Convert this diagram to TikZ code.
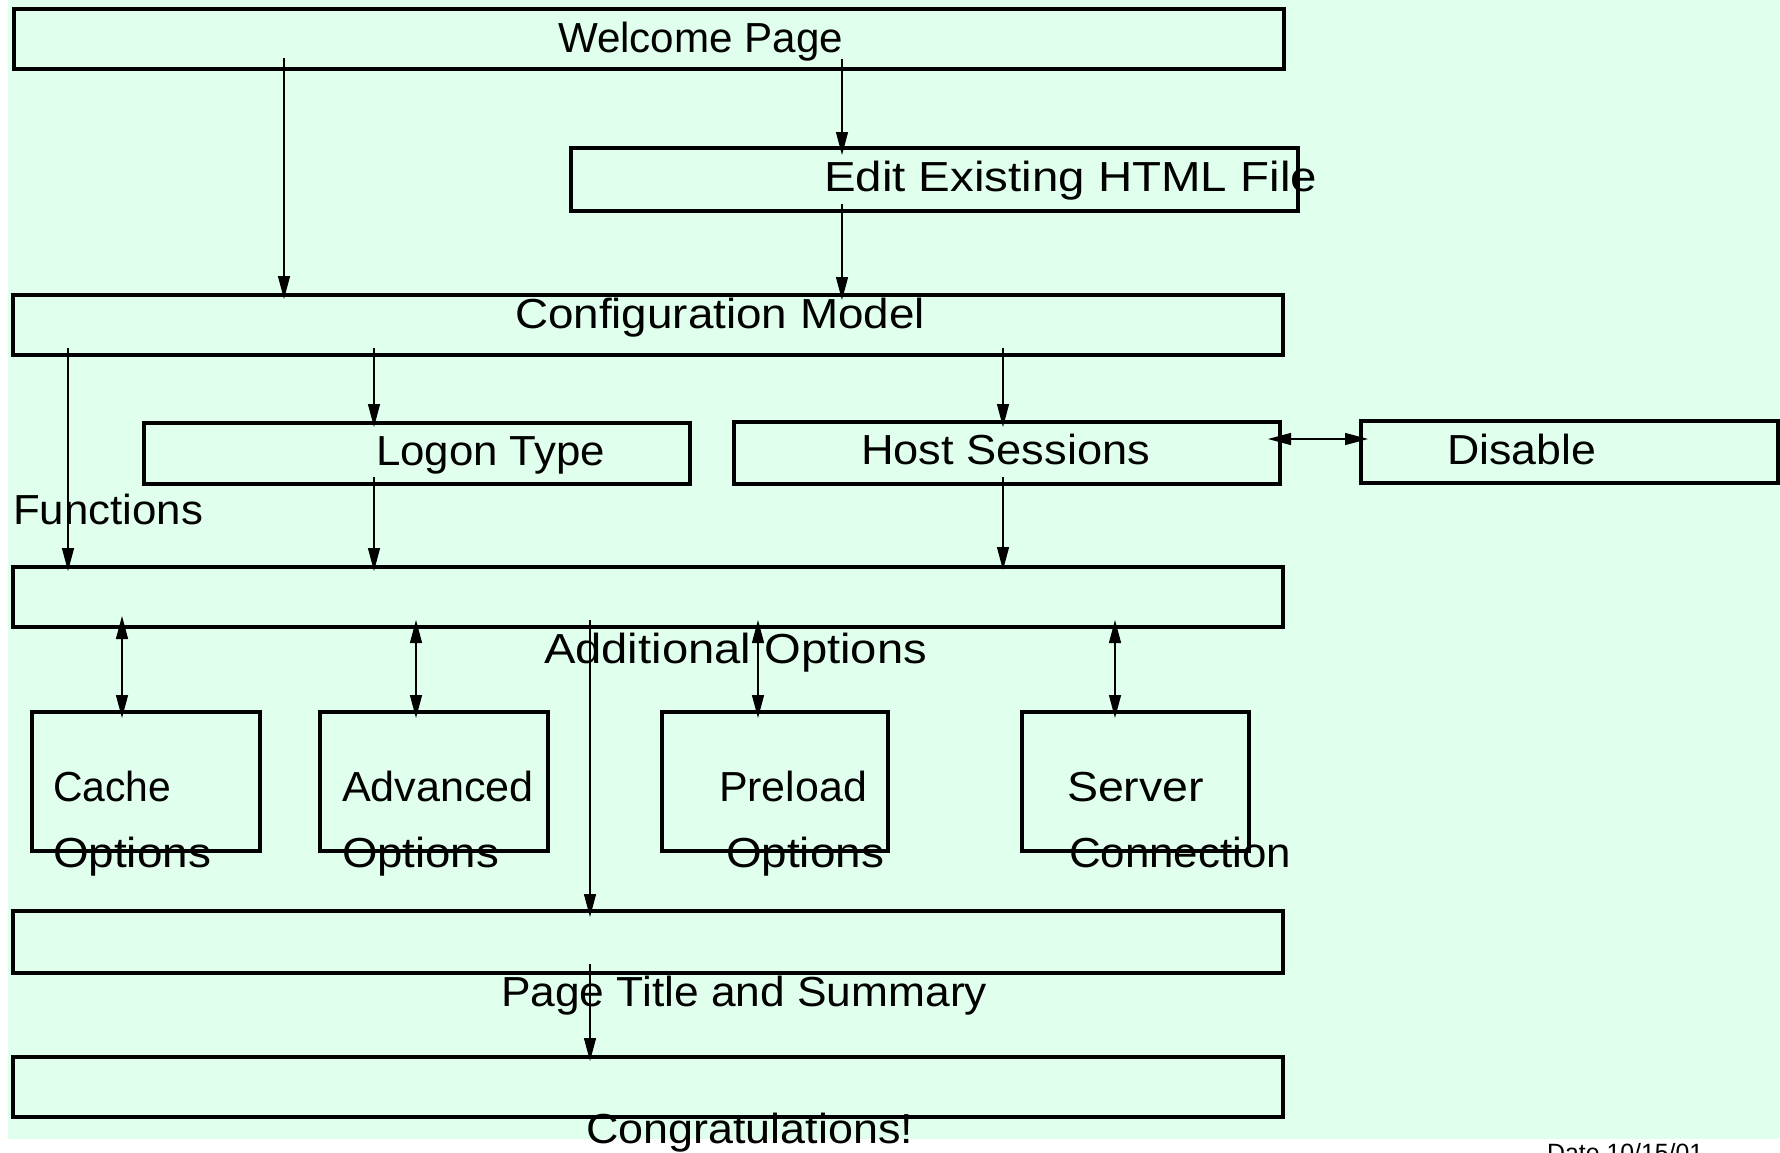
\documentclass[tikz,border=0pt]{standalone}
\usepackage{fontspec}
\setmainfont{Liberation Sans}
\usetikzlibrary{arrows.meta}
\definecolor{bgmint}{RGB}{224,255,236}
\newcommand{\lbl}[2]{\resizebox{#1pt}{\height}{#2}}
\tikzset{
  box/.style={draw=black, line width=3.4pt, rectangle, inner sep=0pt, outer sep=0pt},
  lab/.style={anchor=base west, inner sep=0pt, outer sep=0pt, font=\fontsize{42}{50}\selectfont},
  arr/.style={draw=black, line width=1.3pt, -{Triangle[length=23pt,width=12pt]}},
  darr/.style={draw=black, line width=1.3pt, {Triangle[length=23pt,width=12pt]}-{Triangle[length=23pt,width=12pt]}}
}
\begin{document}
\begin{tikzpicture}[x=1pt,y=-1pt]
\useasboundingbox (0,0) rectangle (1780,1152);
\fill[bgmint] (8,0) rectangle (1780,1139);
% boxes
\node[box, minimum width=1270pt, minimum height=60pt] (welcome) at (649,39) {};
\node[box, minimum width=727pt, minimum height=63pt] (edit) at (934.5,179.5) {};
\node[box, minimum width=1270pt, minimum height=60pt] (config) at (648,325) {};
\node[box, minimum width=546pt, minimum height=61pt] (logon) at (417,453.5) {};
\node[box, minimum width=546pt, minimum height=62pt] (host) at (1007,453) {};
\node[box, minimum width=417pt, minimum height=62pt] (disable) at (1569.5,452) {};
\node[box, minimum width=1270pt, minimum height=60pt] (func) at (648,597) {};
\node[box, minimum width=228pt, minimum height=139pt] (cache) at (146,781.5) {};
\node[box, minimum width=228pt, minimum height=139pt] (adv) at (434,781.5) {};
\node[box, minimum width=226pt, minimum height=139pt] (pre) at (775,781.5) {};
\node[box, minimum width=227pt, minimum height=139pt] (serv) at (1135.5,781.5) {};
\node[box, minimum width=1270pt, minimum height=62pt] (title) at (648,942) {};
\node[box, minimum width=1270pt, minimum height=60pt] (congr) at (648,1087) {};
% labels
\node[lab] (twelcome) at (558,52) {\lbl{285}{Welcome Page}};
\node[lab] (tedit) at (824,191) {\lbl{493}{Edit Existing HTML File}};
\node[lab] (tconfig) at (515,328) {\lbl{410}{Configuration Model}};
\node[lab] (tlogon) at (376,465) {\lbl{229}{Logon Type}};
\node[lab] (thost) at (861,464) {\lbl{289}{Host Sessions}};
\node[lab] (tdisable) at (1447,464) {\lbl{149}{Disable}};
\node[lab] (tfunc) at (13,524) {\lbl{190}{Functions}};
\node[lab] (tadd) at (544,663) {\lbl{383}{Additional Options}};
\node[lab] (tcache) at (53,801) {\lbl{118}{Cache}};
\node[lab] (tcacheo) at (53,867) {\lbl{158}{Options}};
\node[lab] (tadv) at (342,801) {\lbl{192}{Advanced}};
\node[lab] (tadvo) at (342,867) {\lbl{157}{Options}};
\node[lab] (tpre) at (719,801) {\lbl{148}{Preload}};
\node[lab] (tpreo) at (726,867) {\lbl{158}{Options}};
\node[lab] (tserv) at (1067,801) {\lbl{137}{Server}};
\node[lab] (tservo) at (1069,867) {\lbl{222}{Connection}};
\node[lab] (ttitle) at (501,1006) {\lbl{486}{Page Title and Summary}};
\node[lab] (tcongr) at (586,1143) {\lbl{327}{Congratulations!}};
\node[anchor=base west, inner sep=0pt, font=\fontsize{25}{30}\selectfont] (tdate) at (1547,1161) {\lbl{156}{Date 10/15/01}};
% connectors
\draw[arr, shorten <=-11pt, shorten >=-4pt] (284,0 |- welcome.south) -- (284,0 |- config.north);
\draw[arr, shorten <=-10pt, shorten >=-7pt] (842,0 |- welcome.south) -- (842,0 |- edit.north);
\draw[arr, shorten <=-7pt, shorten >=-5pt] (842,0 |- edit.south) -- (842,0 |- config.north);
\draw[arr, shorten <=-7pt, shorten >=-4pt] (68,0 |- config.south) -- (68,0 |- func.north);
\draw[arr, shorten <=-7pt, shorten >=-4pt] (374,0 |- config.south) -- (374,0 |- logon.north);
\draw[arr, shorten <=-7pt, shorten >=-4pt] (374,0 |- logon.south) -- (374,0 |- func.north);
\draw[arr, shorten <=-7pt, shorten >=-5pt] (1003,0 |- config.south) -- (1003,0 |- host.north);
\draw[arr, shorten <=-7pt, shorten >=-3pt] (1003,0 |- host.south) -- (1003,0 |- func.north);
\draw[darr, shorten <=-11pt, shorten >=-6pt] (122,0 |- func.south) -- (122,0 |- cache.north);
\draw[darr, shorten <=-7pt, shorten >=-6pt] (416,0 |- func.south) -- (416,0 |- adv.north);
\draw[arr, shorten <=-7pt, shorten >=-6pt] (590,0 |- func.south) -- (590,0 |- title.north);
\draw[darr, shorten <=-7pt, shorten >=-6pt] (758,0 |- func.south) -- (758,0 |- pre.north);
\draw[darr, shorten <=-7pt, shorten >=-6pt] (1115,0 |- func.south) -- (1115,0 |- serv.north);
\draw[arr, shorten <=-9pt, shorten >=-4pt] (590,0 |- title.south) -- (590,0 |- congr.north);
\draw[darr, shorten <=-12pt, shorten >=-7pt] (0,439 -| host.east) -- (0,439 -| disable.west);
\end{tikzpicture}
\end{document}
